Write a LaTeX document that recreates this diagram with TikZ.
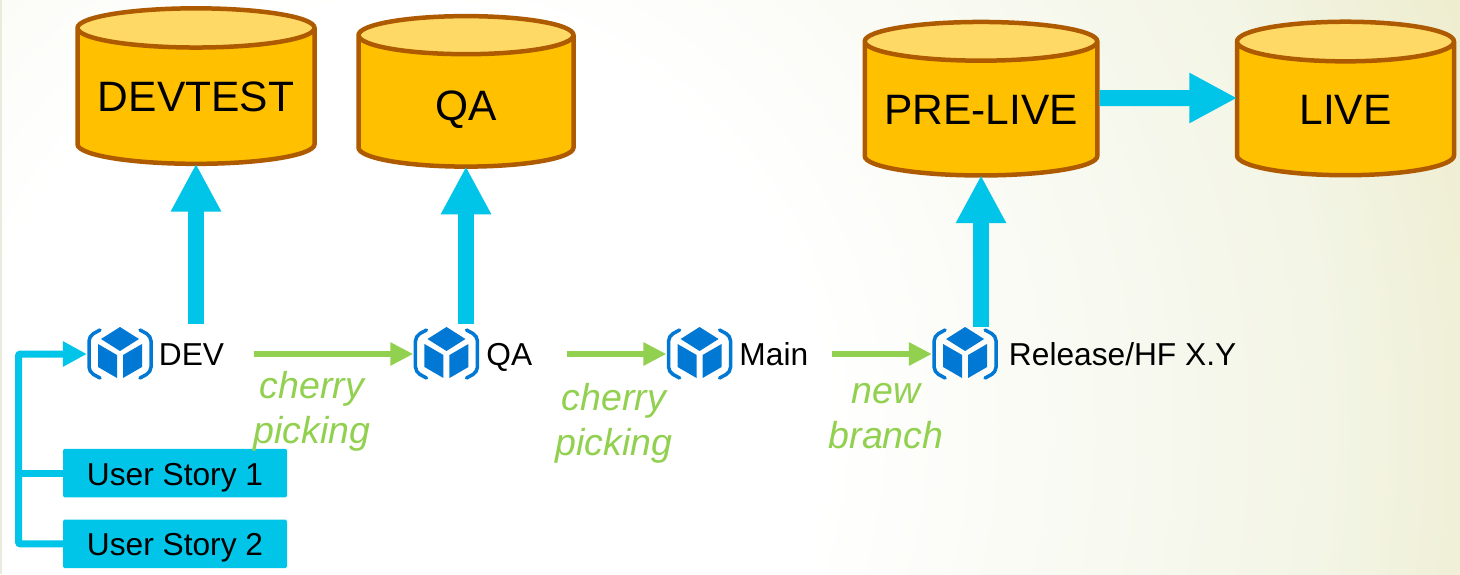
\documentclass[tikz,border=0pt]{standalone}
\usepackage{fontspec}
\setmainfont{Liberation Sans}
\usetikzlibrary{shapes,arrows.meta,positioning,calc}
\pgfdeclarelayer{background}
\pgfsetlayers{background,main}
\definecolor{Dbcol}{HTML}{FFC000}
\definecolor{Dbtopcol}{HTML}{FFD966}
\definecolor{Dbedgecol}{HTML}{AE5A00}
\definecolor{Flowcol}{HTML}{00C5E8}
\definecolor{Pickcol}{HTML}{92D050}
\definecolor{Repocol}{HTML}{0078D4}
\definecolor{Bgmidcol}{HTML}{F3F5E6}
\definecolor{Bgfarcol}{HTML}{E6DFA8}
\definecolor{Bgstripcol}{HTML}{E9ECDC}
\pgfdeclareradialshading{slidebg}{\pgfpoint{0bp}{0bp}}{%
  color(0bp)=(white); color(6.4bp)=(white); color(14bp)=(Bgmidcol);
  color(23bp)=(Bgfarcol); color(100bp)=(Bgfarcol)}
\tikzset{
  db/.style={
    shape=cylinder,
    shape border rotate=90,
    aspect=#1,
    draw=Dbedgecol,
    line width=4.5pt,
    cylinder uses custom fill,
    cylinder body fill=Dbcol,
    cylinder end fill=Dbtopcol,
    font=\fontsize{42.5}{48}\selectfont,
    inner sep=0pt,
  },
  repo/.style={
    minimum width=66pt,
    minimum height=54pt,
    inner sep=0pt,
    path picture={
      \begin{scope}[shift={(path picture bounding box.center)}]
        \fill[Repocol] (0,-27) -- (19,-15) -- (0,-3) -- (-19,-15) -- cycle;
        \fill[Repocol] (-22,-10) -- (-3,1) -- (-3,24) -- (-22,13) -- cycle;
        \fill[Repocol] (22,-10) -- (3,1) -- (3,24) -- (22,13) -- cycle;
        \draw[Repocol,line width=3.5pt,line cap=round,rounded corners=5pt]
          (-20,-24) -- (-31,-18) -- (-31,18) -- (-20,24);
        \draw[Repocol,line width=3.5pt,line cap=round,rounded corners=5pt]
          (20,-24) -- (31,-18) -- (31,18) -- (20,24);
      \end{scope}
    }
  },
  branch/.style={
    font=\fontsize{31.7}{36}\selectfont,
    inner sep=0pt,
    text height=24pt,
    text depth=2pt,
  },
  story/.style={
    fill=Flowcol,
    rounded corners=1.5pt,
    minimum width=224pt,
    minimum height=48.5pt,
    inner sep=0pt,
    text height=24pt,
    text depth=0pt,
    font=\fontsize{31.7}{36}\selectfont,
  },
  picklabel/.style={
    text=Pickcol,
    align=center,
    font=\fontsize{37.5}{45}\selectfont\itshape,
    inner sep=0pt,
  },
  deploy/.style={-{Triangle[length=48pt,width=47pt]},Flowcol,line width=16pt,shorten >=-2.5pt},
  pick/.style={-{Triangle[length=23pt,width=22pt]},Pickcol,line width=6pt},
  feed/.style={Flowcol,line width=7pt,rounded corners=2pt},
}
\begin{document}
\begin{tikzpicture}[x=1pt,y=-1pt]
    \useasboundingbox (0,0) rectangle (1460,574);

    % slide background
    \begin{pgfonlayer}{background}
      \begin{scope}
        \clip (0,0) rectangle (1460,574);
        \shade[shading=slidebg] (400,430) circle (1650);
        \fill[Bgstripcol] (0,0) rectangle (2,574);
      \end{scope}
    \end{pgfonlayer}

    % databases
    \node[db=.2,minimum width=237pt,minimum height=155.5pt] (devtest) at (196,97) {DEVTEST};
    \node[db=.62,minimum width=215pt,minimum height=150.5pt,text height=36pt,text depth=0pt] (qadb) at (466,102) {QA};
    \node[db=.2,minimum width=232.5pt,minimum height=153.5pt] (prelive) at (981,109.5) {PRE-LIVE};
    \node[db=.43,minimum width=217pt,minimum height=153.5pt] (live) at (1345.5,109.5) {LIVE};

    % branches
    \node[repo] (devrepo) at (120,354) {};
    \node[branch,right=5.5pt of devrepo] (devlabel) {DEV};
    \node[repo,right=189pt of devlabel] (qarepo) {};
    \node[branch,right=6.5pt of qarepo] (qalabel) {QA};
    \node[repo,right=134pt of qalabel] (mainrepo) {};
    \node[branch,right=6.5pt of mainrepo] (mainlabel) {Main};
    \node[repo,right=123.5pt of mainlabel] (relrepo) {};
    \node[branch,right=10.5pt of relrepo] (rellabel) {Release/HF X.Y};

    % user stories
    \node[story] (story1) at (175,473) {User Story 1};
    \node[story,below=22pt of story1] (story2) {User Story 2};
    \coordinate (trunk) at (18.5,354);

    % labels under the green arrows
    \node[picklabel] (pick1) at (312,411) {cherry\\picking};
    \node[picklabel] (pick2) at (614,423.5) {cherry\\picking};
    \node[picklabel] (pick3) at (886,416) {new\\branch};

    % Paths
    \draw[deploy,shorten <=3pt] (devtest.south |- devrepo.north) -- (devtest.south);
    \draw[deploy,shorten <=3pt] (qadb.south |- qarepo.north) -- (qadb.south);
    \draw[deploy] (prelive.south |- relrepo.north) -- (prelive.south);
    \draw[deploy] ([yshift=11.5pt]prelive.east) -- ([yshift=11.5pt]live.west);

    \draw[pick,shorten <=30pt] (devlabel.east) -- (qarepo.west);
    \draw[pick,shorten <=35pt] (qalabel.east) -- (mainrepo.west);
    \draw[pick,shorten <=24pt] (mainlabel.east) -- (relrepo.west);

    \draw[feed] (story1.west) -- (story1.west -| trunk);
    \draw[feed,-{Triangle[length=24pt,width=24pt]}] (story2.west) -| (trunk) -- (devrepo.west);

\end{tikzpicture}
\end{document}
